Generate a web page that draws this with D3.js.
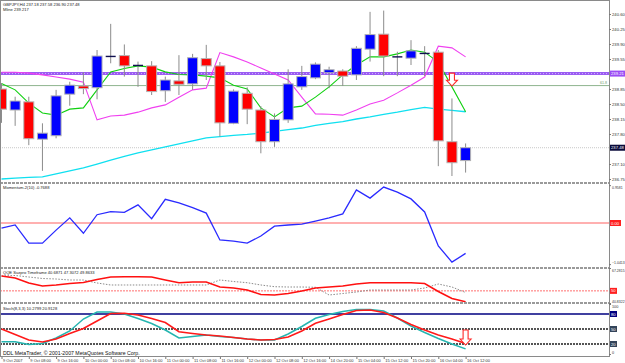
<!DOCTYPE html>
<html>
<head>
<meta charset="utf-8">
<script src="https://cdn.jsdelivr.net/npm/d3@7"></script>
<style>
body { margin: 0; background: #fff; }
svg { display: block; font-family: "Liberation Sans", Arial, sans-serif; }
</style>
</head>
<body>
<div id="chart"></div>
<script>
// GBPJPY H4, 9 Oct 00:00 .. 16 Oct 12:00 (35 bars)
const timeLabels = ['9 Oct 2007', '9 Oct 08:00', '9 Oct 16:00', '10 Oct 00:00', '10 Oct 08:00', '10 Oct 16:00',
  '11 Oct 00:00', '11 Oct 08:00', '11 Oct 16:00', '12 Oct 00:00', '12 Oct 08:00', '12 Oct 16:00',
  '14 Oct 20:00', '15 Oct 04:00', '15 Oct 12:00', '15 Oct 20:00', '16 Oct 04:00', '16 Oct 12:00'];

const opens  = [238.85, 238.36, 238.55, 237.68, 237.76, 238.73, 238.92, 238.88, 239.61, 239.63, 239.40, 239.39, 238.81, 239.04, 238.97, 239.56, 239.39, 238.05, 238.75, 238.36, 237.62, 238.13, 238.90, 239.11, 239.23, 239.27, 239.18, 239.78, 240.13, 239.60, 239.57, 239.68, 239.71, 237.62, 237.18];
const highs  = [238.99, 238.67, 238.67, 238.05, 238.83, 239.02, 239.24, 239.76, 240.37, 239.89, 239.49, 239.50, 239.14, 239.64, 239.67, 239.88, 239.48, 238.84, 238.89, 238.45, 238.28, 239.31, 239.39, 239.47, 239.37, 239.31, 239.85, 240.65, 240.68, 239.72, 239.99, 239.85, 239.76, 238.63, 237.58];
const lows   = [238.06, 237.99, 237.54, 236.94, 237.70, 238.46, 238.73, 238.61, 239.45, 239.14, 238.90, 238.71, 238.55, 238.71, 238.83, 239.06, 237.74, 238.03, 238.03, 237.35, 237.50, 238.06, 238.83, 239.08, 238.87, 238.92, 239.06, 239.49, 239.15, 239.15, 239.41, 239.15, 237.05, 236.82, 236.90];
const closes = [238.38, 238.57, 237.69, 237.82, 238.69, 238.94, 238.86, 239.62, 239.61, 239.39, 239.40, 238.79, 239.06, 238.96, 239.58, 239.39, 238.06, 238.80, 238.38, 237.62, 238.14, 238.97, 239.14, 239.43, 239.30, 239.15, 239.80, 240.12, 239.62, 239.60, 239.74, 239.68, 237.64, 237.13, 237.48];

const maFast = [238.98, 238.83, 238.52, 238.29, 238.24, 238.38, 238.41, 238.83, 239.25, 239.33, 239.39, 239.36, 239.25, 239.19, 239.18, 239.15, 239.11, 238.94, 238.85, 238.41, 238.20, 238.41, 238.45, 238.66, 238.90, 239.18, 239.41, 239.60, 239.60, 239.67, 239.76, 239.71, 239.48, 238.90, 238.32];
const maMid  = [239.24, 239.24, 239.22, 239.18, 239.13, 239.08, 239.01, 238.13, 238.22, 238.24, 238.31, 238.41, 238.48, 238.66, 238.83, 238.87, 239.70, 239.60, 239.48, 239.34, 239.20, 239.06, 238.66, 238.27, 238.26, 238.24, 238.36, 238.50, 238.59, 238.76, 238.94, 239.13, 239.85, 239.81, 239.60];
const maSlow = [236.75, 236.77, 236.79, 236.80, 236.87, 236.94, 237.01, 237.10, 237.19, 237.28, 237.36, 237.43, 237.50, 237.57, 237.64, 237.71, 237.74, 237.77, 237.79, 237.82, 237.86, 237.90, 237.94, 238.00, 238.05, 238.09, 238.15, 238.20, 238.26, 238.31, 238.37, 238.42, 238.38, 238.35, 238.32];

const priceTicks = [240.60, 240.25, 239.90, 239.55, 238.85, 238.50, 238.15, 237.80, 237.10, 236.75];
const mLine = 239.21;
const fibLine = 238.93;
const bidPrice = 237.48;

const momentum = [-0.13, -0.05, -0.51, -0.51, -0.18, 0.13, -0.26, 0.21, 0.29, 0.27, 0.46, 0.11, 0.60, 0.51, 0.39, 0.25, -0.43, -0.46, -0.51, -0.33, -0.08, -0.05, -0.03, 0.05, 0.13, 0.23, 0.84, 0.63, 0.91, 0.78, 0.61, 0.28, -0.58, -0.99, -0.77];
const momentumRange = [-1.0413, 0.9581];

const qqeRsi   = [61.24, 59.73, 55.95, 53.68, 54.44, 55.57, 56.33, 58.60, 60.48, 60.71, 60.71, 60.48, 58.22, 56.17, 56.70, 56.70, 52.92, 52.17, 50.66, 47.26, 46.88, 48.01, 49.90, 52.17, 52.92, 53.68, 55.19, 56.17, 56.17, 56.17, 56.17, 55.57, 49.52, 44.23, 41.81];
const qqeTrail = [61.24, 61.62, 60.48, 59.35, 58.97, 58.22, 58.22, 55.95, 54.44, 54.44, 54.44, 54.44, 54.44, 54.44, 54.44, 54.44, 58.22, 57.08, 56.17, 54.44, 53.15, 52.92, 52.92, 52.70, 46.88, 48.01, 49.14, 50.66, 50.66, 50.66, 50.66, 52.17, 55.19, 52.92, 48.77];
const qqeRange = [40.8322, 67.2815];

const stochK = [24.6, 24.6, 19, 21, 32, 46, 70, 84, 84, 80, 71, 61, 48, 32, 35, 38, 35, 33, 30, 28, 28, 40, 55, 71.4, 79, 85, 89, 89, 86, 72, 56, 43, 31, 20, 10.3];
const stochD = [50, 39, 28, 24, 30, 41, 51, 66, 81, 81.4, 78, 71, 63, 44.6, 41, 38, 36, 33, 30, 28, 29, 34, 46, 61.4, 70, 79, 87, 88, 83, 72, 59, 48, 38, 30, 20.9];
const stochLevels = [80, 50, 20];

// signal arrows: [bar, top value, bottom value]
const mainArrow = [33, 239.22, 238.92];
const stochArrow = [34, 48, 18];

const draw = () => {
  const width = 625, height = 363, plotRight = 609;
  const svg = d3.select('#chart').append('svg')
    .attr('width', width).attr('height', height);

  const x = d3.scaleLinear().domain([0, opens.length - 1]).range([1.5, 465.6]);
  const yMain = d3.scaleLinear().domain([236.657, 240.857]).range([183, 3]);
  const yMom = d3.scaleLinear().domain([-1.139, 1.0127]).range([268, 183]);
  const yQqe = d3.scaleLinear().domain(qqeRange).range([303, 268]);
  const ySto = d3.scaleLinear().domain([0, 100]).range([354, 304]);

  const hline = (y, color, w, dash) => svg.append('line')
    .attr('x1', 0).attr('x2', plotRight).attr('y1', y).attr('y2', y)
    .attr('stroke', color).attr('stroke-width', w).attr('stroke-dasharray', dash || null);

  const series = (data, scale, color, w, dash) => svg.append('path')
    .datum(data)
    .attr('fill', 'none').attr('stroke', color).attr('stroke-width', w)
    .attr('stroke-dasharray', dash || null)
    .attr('d', d3.line().x((d, i) => x(i)).y(d => scale(d)));

  const txt = (tx, ty, s, size, color) => svg.append('text')
    .attr('x', tx).attr('y', ty).attr('font-size', size).attr('fill', color || '#222').text(s);

  // main panel levels
  hline(yMain(fibLine), '#8fb58f', 1);
  hline(yMain(bidPrice), '#c8c8c8', 1, '1,1');
  hline(yMain(mLine), '#9b5cf2', 3);
  hline(yMain(mLine), '#d2b4ff', 1, '1,2');
  txt(600, yMain(fibLine) - 1.5, '61.8', 3.6, '#6a9a6a');

  series(maSlow, yMain, '#10e0f0', 1.3);
  series(maMid, yMain, '#f040f0', 1.1);
  series(maFast, yMain, '#10d010', 1.1);

  // candles
  const idx = d3.range(opens.length);
  svg.selectAll('.wick').data(idx).join('line')
    .attr('class', 'wick')
    .attr('x1', i => x(i)).attr('x2', i => x(i))
    .attr('y1', i => yMain(highs[i])).attr('y2', i => yMain(lows[i]))
    .attr('stroke', '#8c8c8c').attr('stroke-width', 1);
  svg.selectAll('.body').data(idx.filter(i => opens[i] !== closes[i])).join('rect')
    .attr('class', 'body')
    .attr('x', i => x(i) - 5).attr('width', 10)
    .attr('y', i => yMain(Math.max(opens[i], closes[i])))
    .attr('height', i => Math.max(1, Math.abs(yMain(opens[i]) - yMain(closes[i]))))
    .attr('fill', i => closes[i] > opens[i] ? '#0000ff' : '#ff0000')
    .attr('stroke', '#b4b4b4').attr('stroke-width', 1);
  svg.selectAll('.doji').data(idx.filter(i => opens[i] === closes[i])).join('line')
    .attr('class', 'doji')
    .attr('x1', i => x(i) - 5).attr('x2', i => x(i) + 5)
    .attr('y1', i => yMain(closes[i])).attr('y2', i => yMain(closes[i]))
    .attr('stroke', '#101050').attr('stroke-width', 1.4);

  const arrow = (a, scale) => {
    const cx = x(a[0]), t = scale(a[1]), b = scale(a[2]);
    const hh = Math.min(6, (b - t) * 0.45);
    svg.append('path')
      .attr('d', `M${cx - 2.5},${t}H${cx + 2.5}V${b - hh}H${cx + 5.5}L${cx},${b}L${cx - 5.5},${b - hh}H${cx - 2.5}Z`)
      .attr('fill', '#fff').attr('stroke', '#ff2a2a').attr('stroke-width', 1.1);
  };
  arrow(mainArrow, yMain);

  // momentum panel
  hline(yMom(0), '#ffb0b0', 2);
  series(momentum, yMom, '#2a2aff', 1.3);

  // qqe panel
  hline(yQqe(50), '#ff7070', 1, '2,1');
  series(qqeTrail, yQqe, '#8a8a8a', 1, '1.5,1.5');
  series(qqeRsi, yQqe, '#ff1010', 1.6);

  // stochastic panel
  hline(ySto(stochLevels[0]), '#000080', 1.5);
  hline(ySto(stochLevels[1]), '#555', 2, '2,1');
  hline(ySto(stochLevels[2]), '#555', 2, '2,1');
  series(stochK, ySto, '#25b5b0', 1.5);
  series(stochD, ySto, '#ff1a1a', 1.6);
  arrow(stochArrow, ySto);

  // separators and frame
  [183, 268, 303].forEach(y => hline(y, '#9a9a9a', 2, '3,1'));
  svg.append('rect').attr('x', 0.5).attr('y', 0.5).attr('width', plotRight).attr('height', 356)
    .attr('fill', 'none').attr('stroke', '#8a8a8a').attr('stroke-width', 1);

  // right axes; panel max label sits below its tick, min label above
  const rightAxis = (scale, values, fmt, size, edge) => g => g
    .attr('transform', `translate(${plotRight},0)`)
    .call(d3.axisRight(scale).tickValues(values).tickSize(2).tickFormat(fmt))
    .call(g => g.attr('font-size', size).attr('font-family', null))
    .call(g => g.select('.domain').remove())
    .call(g => g.selectAll('line').attr('stroke', '#777'))
    .call(g => g.selectAll('text').attr('x', 3).attr('fill', '#333')
      .attr('dy', (d, i) => edge ? (i === 0 ? '1.0em' : '-0.2em') : '0.32em'));
  svg.append('g').call(rightAxis(yMain, priceTicks, d3.format('.2f'), 4.2, false));
  svg.append('g').call(rightAxis(yMom, momentumRange.slice().reverse(), d3.format('.4f'), 3.5, true));
  svg.append('g').call(rightAxis(yQqe, qqeRange.slice().reverse(), d3.format('.4f'), 3.5, true));
  svg.append('g').call(rightAxis(ySto, [100, 0], d3.format('d'), 3.8, true));

  const boxLabel = (y, s, fill, w) => {
    svg.append('rect').attr('x', plotRight + 1).attr('y', y - 3).attr('width', w).attr('height', 6).attr('fill', fill);
    svg.append('text').attr('x', plotRight + 2).attr('y', y + 1.5).attr('font-size', 4.2).attr('fill', '#fff').text(s);
  };
  boxLabel(yMain(mLine), mLine.toFixed(2), '#9b4df5', 16);
  boxLabel(yMain(bidPrice), bidPrice.toFixed(2), '#0a0a3a', 16);
  boxLabel(yMom(0), '0.00', '#ff2020', 11);
  boxLabel(yQqe(50), '50', '#ff2020', 7);
  boxLabel(ySto(stochLevels[0]), '80', '#000080', 7);
  boxLabel(ySto(stochLevels[1]), '50', '#33445a', 7);
  boxLabel(ySto(stochLevels[2]), '20', '#33445a', 7);

  // time axis
  const gx = svg.append('g')
    .attr('transform', 'translate(0,357)')
    .call(d3.axisBottom(x).tickValues(d3.range(0, opens.length, 2)).tickSize(2)
      .tickFormat((d, i) => timeLabels[i]))
    .attr('font-size', 4).attr('font-family', null);
  gx.select('.domain').remove();
  gx.selectAll('line').attr('stroke', '#777');
  gx.selectAll('text').attr('text-anchor', 'start').attr('x', 1).attr('y', 2).attr('dy', '0.8em').attr('fill', '#333');

  // texts
  txt(3, 6.3, 'GBPJPY,H4  237.18 237.58 236.90 237.48', 4.1);
  txt(3, 10.5, 'Mline 239.217', 4.1);
  txt(3, 189, 'Momentum-2(10) -0.7688', 4.1);
  txt(3, 274, 'QQE Suzpro Timeframe 40.6871 47.3072 49.8633', 4.1);
  txt(3, 310, 'Stoch(8,3,3) 10.2799 20.9128', 4.1);
  txt(3, 355, 'DDL MetaTrader, \u00a9 2001-2007 MetaQuotes Software Corp.', 5.2, '#111');
}

draw();
</script>
</body>
</html>
